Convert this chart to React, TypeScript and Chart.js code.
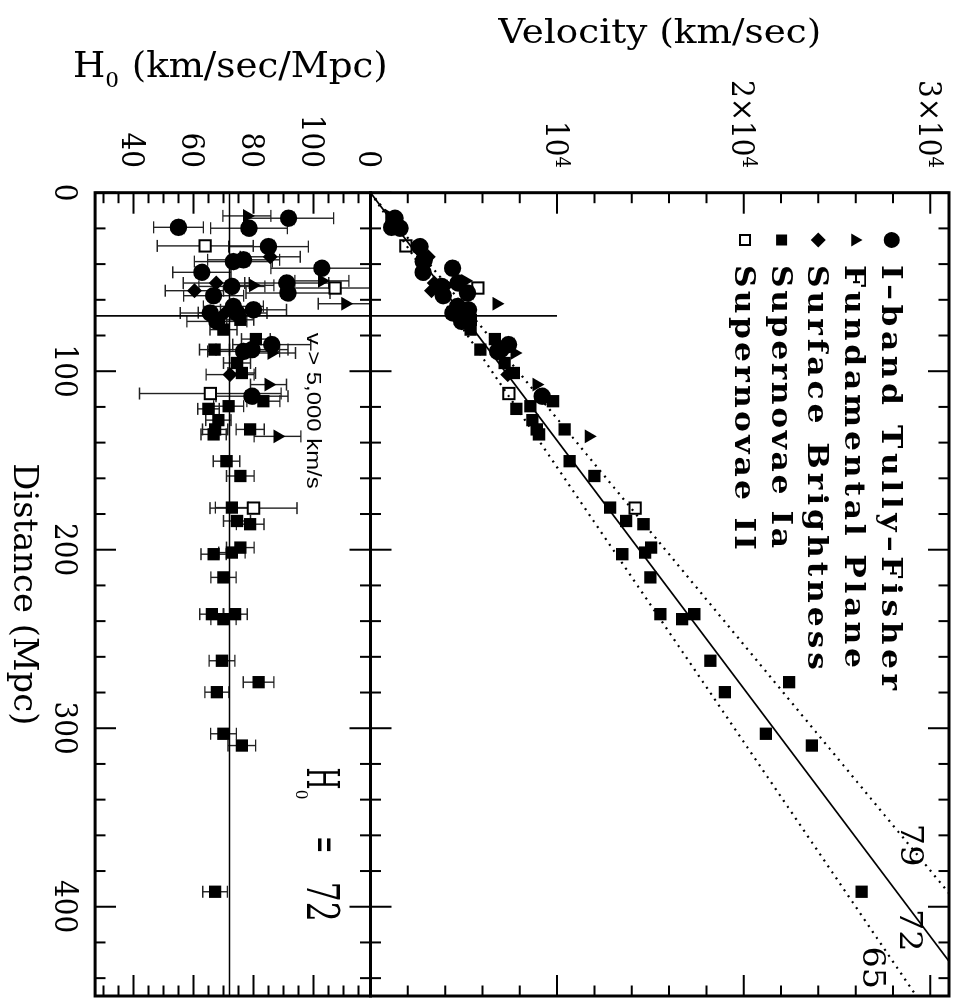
import React, { useEffect, useRef } from "react";
import { Chart, registerables } from "chart.js";

Chart.register(...registerables);

/* ---------------- values ---------------- */
// I-band Tully-Fisher (filled circles)
const tfDist = [14.3, 19.4, 19.9, 30.2, 38.6, 37.6, 44.6, 42.3, 52.5, 50.6, 56.2, 57.7, 67.4, 72.1, 63.7, 65.6, 67.4, 85.1, 88.9, 87.9, 114.0];
const tfVel = [1310, 1130, 1580, 2650, 2830, 2880, 2820, 4400, 3810, 4700, 5200, 3900, 4420, 4890, 4670, 5250, 5020, 7400, 6820, 6990, 9200];
const tfH0 = [91.7, 55.0, 78.5, 85.0, 73.3, 76.7, 62.8, 102.8, 72.8, 91.1, 91.5, 66.7, 65.6, 67.8, 73.3, 80.0, 74.5, 86.1, 76.7, 79.5, 79.5];
const tfErr = [15, 8.3, 12.8, 13.3, 13, 12, 9.7, 17, 11, 14, 14, 10, 10, 10, 10, 11, 10, 13, 12, 12, 12];

// Fundamental Plane (filled triangles)
const fpDist = [13.0, 49.4, 51.9, 62.2, 89.8, 107.5, 136.5];
const fpVel = [1010, 5080, 4140, 6750, 7720, 8900, 11700];
const fpH0 = [77.8, 102.8, 79.8, 110.6, 86.0, 85.0, 88.0];
const fpErr = [8, 9, 7, 9, 8, 6, 7.8];

// Surface Brightness Fluctuations (filled diamonds)
const sbfDist = [35.9, 50.6, 54.9, 67.2, 101.9];
const sbfVel = [3090, 3420, 3270, 4740, 7360];
const sbfH0 = [85.6, 67.6, 60.3, 70.6, 72.2];
const sbfErr = [10, 11, 9.7, 9, 8];

// Supernovae Ia (filled squares)
const snIaDist = [71.2, 76.7, 82.0, 87.9, 95.4, 101.0, 116.8, 121.1, 119.6, 127.4, 132.6, 135.4, 132.6, 150.4, 158.7, 176.4, 183.9, 185.7, 198.8, 201.6, 202.5, 215.5, 236.1, 236.1, 238.9, 262.2, 274.2, 279.8, 303.1, 309.7, 391.6];
const snIaVel = [5380, 5370, 6660, 5890, 7190, 7680, 9780, 7820, 8570, 8670, 8910, 9030, 10400, 10670, 12000, 12840, 13700, 14630, 15040, 14720, 13490, 15000, 15530, 17350, 16700, 18210, 22430, 18990, 21190, 23650, 26320];
const snIaH0 = [75.6, 70.0, 80.8, 67.0, 74.5, 76.1, 83.3, 65.0, 71.7, 68.3, 67.2, 66.7, 78.9, 71.0, 75.6, 72.8, 74.5, 78.9, 75.6, 72.8, 66.7, 70.0, 66.1, 73.9, 70.0, 69.5, 81.7, 67.8, 70.0, 76.1, 67.2];
const snIaErr = [4.5, 4.5, 4.8, 5.0, 4.5, 4.6, 5.5, 3.6, 5.0, 4.2, 4.2, 4.2, 4.7, 4.4, 4.6, 5.5, 4.5, 4.6, 4.6, 4.4, 4.2, 4.2, 4.0, 4.0, 4.2, 4.3, 5.1, 4.0, 4.3, 4.6, 4.1];

// Supernovae II (open squares)
const snIIDist = [29.8, 53.4, 112.5, 176.7];
const snIIVel = [1900, 5750, 7420, 14180];
const snIIH0 = [63.9, 107.2, 65.6, 80.0];
const snIIErr = [16, 14, 23.6, 14.5];

// axes
const distRange = [0, 450];
const velRange = [0, 31000];
const h0Range = [27.2, 119];
const distTicks = [0, 100, 200, 300, 400];
const distTickLabels = ["0", "100", "200", "300", "400"];
const velTicks = [0, 10000, 20000, 30000];
const velTickBase = ["0", "10", "2\u00d710", "3\u00d710"];
const velTickSup = ["", "4", "4", "4"];
const h0Ticks = [40, 60, 80, 100];
const h0TickLabels = ["40", "60", "80", "100"];

// Hubble-law lines and cut
const hubbleValues = [72, 79, 65];
const hubbleLabels = ["72", "79", "65"];
const cutDist = 69;
const cutVel = 10000;

const legendLabels = ["I\u2013band Tully\u2013Fisher", "Fundamental Plane", "Surface Brightness", "Supernovae Ia", "Supernovae II"];

/* ---------------- layout (landscape canvas, shown rotated) ---------------- */
const W = 1006;
const H = 959;
const PLOT_L = 192.7;
const PLOT_R = 997.7;
const VEL_T = 8.8;
const DIV = 588.5;
const H0_B = 863.9;

const SERIF = "'DejaVu Serif', 'Liberation Serif', serif";
const SANS = "'Liberation Sans', Arial, sans-serif";

const pts = (xs: number[], ys: number[]) => xs.map((x, i) => ({ x, y: ys[i] }));

type Marker = { style: string; radius: number; fill: string; border: number };
const markers: Marker[] = [
  { style: "circle", radius: 8.7, fill: "#000", border: 0 },
  { style: "triangle", radius: 8, fill: "#000", border: 0 },
  { style: "rectRot", radius: 7.5, fill: "#000", border: 0 },
  { style: "rect", radius: 8.7, fill: "#000", border: 0 },
  { style: "rect", radius: 8, fill: "rgba(0,0,0,0)", border: 2 },
];

function pointDs(data: any[], m: Marker, extra: any = {}) {
  return {
    data,
    pointStyle: m.style,
    pointRadius: m.radius,
    pointHoverRadius: m.radius,
    backgroundColor: m.fill,
    pointBackgroundColor: m.fill,
    borderColor: "#000",
    pointBorderColor: "#000",
    borderWidth: m.border,
    pointBorderWidth: m.border,
    showLine: false,
    order: 1,
    ...extra,
  };
}

function lineDs(data: any[], width: number, dash: number[] = []) {
  return {
    data,
    showLine: true,
    borderColor: "#000",
    borderWidth: width,
    borderDash: dash,
    borderCapStyle: "butt",
    pointRadius: 0,
    pointHoverRadius: 0,
    fill: false,
    order: 5,
  };
}

function drawFrameTicks(ctx: CanvasRenderingContext2D, a: any, xs: any, ys: any, xMinor: number, xMajor: number, yMinor: number, yMajor: number) {
  ctx.save();
  ctx.strokeStyle = "#000";
  ctx.lineWidth = 2;
  ctx.lineCap = "butt";
  ctx.beginPath();
  for (let k = Math.ceil(xs.min / xMinor); k * xMinor <= xs.max + 1e-6; k++) {
    const v = k * xMinor;
    const px = xs.getPixelForValue(v);
    const major = Math.abs(v / xMajor - Math.round(v / xMajor)) < 1e-6;
    const L = major ? 21 : 10.5;
    ctx.moveTo(px, a.top);
    ctx.lineTo(px, a.top + L);
    ctx.moveTo(px, a.bottom);
    ctx.lineTo(px, a.bottom - L);
  }
  for (let k = Math.ceil(ys.min / yMinor - 1e-6); k * yMinor <= ys.max + 1e-6; k++) {
    const v = k * yMinor;
    const py = ys.getPixelForValue(v);
    const major = Math.abs(v / yMajor - Math.round(v / yMajor)) < 1e-6;
    const L = major ? 21 : 10.5;
    ctx.moveTo(a.left, py);
    ctx.lineTo(a.left + L, py);
    ctx.moveTo(a.right, py);
    ctx.lineTo(a.right - L, py);
  }
  ctx.stroke();
  ctx.lineWidth = 3;
  ctx.strokeRect(a.left, a.top, a.right - a.left, a.bottom - a.top);
  ctx.restore();
}

function drawScaled(ctx: CanvasRenderingContext2D, text: string, x: number, y: number, font: string, sx: number, align: CanvasTextAlign = "left", rot = 0) {
  ctx.save();
  ctx.translate(x, y);
  if (rot) ctx.rotate(rot);
  ctx.scale(sx, 1);
  ctx.font = font;
  ctx.fillStyle = "#000";
  ctx.textAlign = align;
  ctx.textBaseline = "alphabetic";
  ctx.fillText(text, 0, 0);
  ctx.restore();
}

function textWidth(ctx: CanvasRenderingContext2D, text: string, font: string) {
  ctx.save();
  ctx.font = font;
  const w = ctx.measureText(text).width;
  ctx.restore();
  return w;
}

const TICK_FONT = `31px ${SERIF}`;
const SUP_FONT = `20px ${SERIF}`;
const TICK_SX = 0.9;

function drawYTickLabel(ctx: CanvasRenderingContext2D, base: string, sup: string, xr: number, y: number) {
  const wb = textWidth(ctx, base, TICK_FONT) * TICK_SX;
  const ws = sup ? textWidth(ctx, sup, SUP_FONT) * TICK_SX : 0;
  drawScaled(ctx, base, xr - ws - wb, y + 11.3, TICK_FONT, TICK_SX);
  if (sup) drawScaled(ctx, sup, xr - ws, y + 1, SUP_FONT, TICK_SX);
}

function drawLegendMarker(ctx: CanvasRenderingContext2D, i: number, x: number, y: number) {
  ctx.save();
  ctx.fillStyle = "#000";
  ctx.strokeStyle = "#000";
  ctx.beginPath();
  if (i === 0) {
    ctx.arc(x, y, 8, 0, Math.PI * 2);
    ctx.fill();
  } else if (i === 1) {
    const r = 7.5;
    ctx.moveTo(x, y - r);
    ctx.lineTo(x + r * 0.866, y + r * 0.5);
    ctx.lineTo(x - r * 0.866, y + r * 0.5);
    ctx.closePath();
    ctx.fill();
  } else if (i === 2) {
    const r = 7.5;
    ctx.moveTo(x, y - r);
    ctx.lineTo(x + r, y);
    ctx.lineTo(x, y + r);
    ctx.lineTo(x - r, y);
    ctx.closePath();
    ctx.fill();
  } else if (i === 3) {
    ctx.rect(x - 5.5, y - 5.5, 11, 11);
    ctx.fill();
  } else {
    ctx.lineWidth = 2;
    ctx.rect(x - 5, y - 5, 10, 10);
    ctx.stroke();
  }
  ctx.restore();
}

const LEGEND_FONT = `bold 28px ${SERIF}`;
const LEGEND_SX = 1.12;
const legendWidths = [425, 403, 405, 283, 285];

function drawSpaced(ctx: CanvasRenderingContext2D, text: string, x: number, y: number, font: string, sx: number, target: number) {
  ctx.save();
  ctx.font = font;
  ctx.fillStyle = "#000";
  ctx.textAlign = "left";
  ctx.textBaseline = "alphabetic";
  const chars = Array.from(text);
  const ws = chars.map((c) => ctx.measureText(c).width * sx);
  const total = ws.reduce((s, w) => s + w, 0);
  const ls = (target - total) / Math.max(1, chars.length - 1);
  let cx = x;
  chars.forEach((c, i) => {
    ctx.save();
    ctx.translate(cx, y);
    ctx.scale(sx, 1);
    ctx.fillText(c, 0, 0);
    ctx.restore();
    cx += ws[i] + ls;
  });
  ctx.restore();
}

const velDeco = {
  id: "velDeco",
  afterDraw(chart: any) {
    const ctx: CanvasRenderingContext2D = chart.ctx;
    const a = chart.chartArea;
    const xs = chart.scales.x;
    const ys = chart.scales.y;
    drawFrameTicks(ctx, a, xs, ys, 20, 100, 2000, 10000);
    velTicks.forEach((v, i) => drawYTickLabel(ctx, velTickBase[i], velTickSup[i], 168, ys.getPixelForValue(v)));
    // axis title (vertical in landscape)
    const tf = `34px ${SERIF}`;
    const title = "Velocity (km/sec)";
    const sx = 323 / textWidth(ctx, title, tf);
    drawScaled(ctx, title, 43.3, (a.top + a.bottom) / 2, tf, sx, "center", -Math.PI / 2);
    // legend
    legendLabels.forEach((lab, i) => {
      const y = 67.3 + 36.7 * i;
      drawLegendMarker(ctx, i, 240, y);
      drawSpaced(ctx, lab, 265, y + 10, LEGEND_FONT, LEGEND_SX, legendWidths[i]);
    });
    // Hubble line labels
    const lf = `32px ${SERIF}`;
    const anchors = [
      { d: 413.2, v: 28980 },
      { d: 365.5, v: 29040 },
      { d: 434.2, v: 27000 },
    ];
    hubbleLabels.forEach((t, i) => {
      const px = xs.getPixelForValue(anchors[i].d);
      const py = ys.getPixelForValue(anchors[i].v);
      drawScaled(ctx, t, px, py + 11.5, lf, 1.05, "center");
    });
  },
};

const h0Deco = {
  id: "h0Deco",
  beforeDatasetsDraw(chart: any) {
    const ctx: CanvasRenderingContext2D = chart.ctx;
    const a = chart.chartArea;
    const xs = chart.scales.x;
    const ys = chart.scales.y;
    ctx.save();
    ctx.beginPath();
    ctx.rect(a.left, a.top, a.right - a.left, a.bottom - a.top);
    ctx.clip();
    ctx.strokeStyle = "#222";
    ctx.lineWidth = 1.4;
    chart.data.datasets.forEach((ds: any) => {
      const errs: number[] | undefined = ds.errs;
      if (!errs) return;
      ds.data.forEach((p: any, i: number) => {
        const px = xs.getPixelForValue(p.x);
        const y1 = ys.getPixelForValue(p.y - errs[i]);
        const y2 = ys.getPixelForValue(p.y + errs[i]);
        ctx.beginPath();
        ctx.moveTo(px, y1);
        ctx.lineTo(px, y2);
        ctx.moveTo(px - 6, y1);
        ctx.lineTo(px + 6, y1);
        ctx.moveTo(px - 6, y2);
        ctx.lineTo(px + 6, y2);
        ctx.stroke();
      });
    });
    ctx.restore();
  },
  afterDraw(chart: any) {
    const ctx: CanvasRenderingContext2D = chart.ctx;
    const a = chart.chartArea;
    const xs = chart.scales.x;
    const ys = chart.scales.y;
    drawFrameTicks(ctx, a, xs, ys, 20, 100, 5, 20);
    h0Ticks.forEach((v, i) => drawYTickLabel(ctx, h0TickLabels[i], "", 168, ys.getPixelForValue(v)));
    distTicks.forEach((d, i) => drawScaled(ctx, distTickLabels[i], xs.getPixelForValue(d), 904, TICK_FONT, TICK_SX, "center"));
    // distance title
    const tf = `34px ${SERIF}`;
    const dt = "Distance (Mpc)";
    drawScaled(ctx, dt, (a.left + a.right) / 2, 945, tf, 262 / textWidth(ctx, dt, tf), "center");
    // H0 title (vertical in landscape), pieces: H, subscript 0, (km/sec/Mpc)
    const hf = `36px ${SERIF}`;
    const sf = `21px ${SERIF}`;
    const rest = "(km/sec/Mpc)";
    const hsx = 256 / textWidth(ctx, rest, hf);
    ctx.save();
    ctx.translate(76.7, 886);
    ctx.rotate(-Math.PI / 2);
    let u = 0;
    drawScaled(ctx, "H", u, 0, hf, hsx);
    u += textWidth(ctx, "H", hf) * hsx;
    drawScaled(ctx, "0", u, 10, sf, hsx);
    u = 886 - 827.3;
    drawScaled(ctx, rest, u, 0, hf, hsx);
    ctx.restore();
    // cut annotation
    const vt = "v > 5,000 km/s";
    const vf = `21px ${SANS}`;
    drawScaled(ctx, vt, xs.getPixelForValue(78.4), ys.getPixelForValue(97.9), vf, 156 / textWidth(ctx, vt, vf));
    // H0 = 72 annotation
    const bf = `45px ${SERIF}`;
    const by = ys.getPixelForValue(97.9);
    drawScaled(ctx, "H", xs.getPixelForValue(322), by, bf, 22 / textWidth(ctx, "H", bf));
    drawScaled(ctx, "0", xs.getPixelForValue(334.5), by + 11, `17px ${SERIF}`, 0.9);
    drawScaled(ctx, "=", xs.getPixelForValue(360.5), by - 3, bf, 17 / textWidth(ctx, "=", bf));
    drawScaled(ctx, "72", xs.getPixelForValue(386), by, bf, 40 / textWidth(ctx, "72", bf));
  },
};

function baseOptions(padTop: number, padBottom: number, yMin: number, yMax: number) {
  return {
    responsive: false,
    animation: false as const,
    devicePixelRatio: 1,
    events: [] as any[],
    layout: { padding: { left: PLOT_L, right: W - PLOT_R, top: padTop, bottom: padBottom } },
    scales: {
      x: { type: "linear" as const, min: distRange[0], max: distRange[1], display: false },
      y: { type: "linear" as const, min: yMin, max: yMax, display: false },
    },
    plugins: { legend: { display: false }, tooltip: { enabled: false } },
  };
}

export default function App() {
  const velRef = useRef<HTMLCanvasElement>(null);
  const h0Ref = useRef<HTMLCanvasElement>(null);

  useEffect(() => {
    document.documentElement.style.overflow = "hidden";
    document.body.style.overflow = "hidden";

    const velDatasets: any[] = [
      lineDs([{ x: 0, y: 0 }, { x: distRange[1], y: hubbleValues[0] * distRange[1] }], 1.7),
      lineDs([{ x: 0, y: 0 }, { x: distRange[1], y: hubbleValues[1] * distRange[1] }], 2.2, [2, 5.2]),
      lineDs([{ x: 0, y: 0 }, { x: distRange[1], y: hubbleValues[2] * distRange[1] }], 2.2, [2, 5.2]),
      lineDs([{ x: cutDist, y: velRange[0] }, { x: cutDist, y: cutVel }], 1.7),
      pointDs(pts(snIIDist, snIIVel), markers[4]),
      pointDs(pts(snIaDist, snIaVel), markers[3]),
      pointDs(pts(sbfDist, sbfVel), markers[2]),
      pointDs(pts(fpDist, fpVel), markers[1]),
      pointDs(pts(tfDist, tfVel), markers[0]),
    ];

    const h0Datasets: any[] = [
      lineDs([{ x: distRange[0], y: hubbleValues[0] }, { x: distRange[1], y: hubbleValues[0] }], 1.7),
      lineDs([{ x: cutDist, y: h0Range[0] }, { x: cutDist, y: h0Range[1] }], 1.7),
      pointDs(pts(snIIDist, snIIH0), { ...markers[4], fill: "#fff" }, { errs: snIIErr }),
      pointDs(pts(snIaDist, snIaH0), markers[3], { errs: snIaErr }),
      pointDs(pts(sbfDist, sbfH0), markers[2], { errs: sbfErr }),
      pointDs(pts(fpDist, fpH0), markers[1], { errs: fpErr }),
      pointDs(pts(tfDist, tfH0), markers[0], { errs: tfErr }),
    ];

    const velChart = new Chart(velRef.current as HTMLCanvasElement, {
      type: "scatter",
      data: { datasets: velDatasets },
      options: baseOptions(VEL_T, H - DIV, velRange[0], velRange[1]) as any,
      plugins: [velDeco],
    });
    const h0Chart = new Chart(h0Ref.current as HTMLCanvasElement, {
      type: "scatter",
      data: { datasets: h0Datasets },
      options: baseOptions(DIV, H - H0_B, h0Range[0], h0Range[1]) as any,
      plugins: [h0Deco],
    });
    return () => {
      velChart.destroy();
      h0Chart.destroy();
    };
  }, []);

  return (
    <div
      style={{
        position: "absolute",
        left: 0,
        top: 0,
        width: W,
        height: H,
        transformOrigin: "0 0",
        transform: `translate(${H}px, 0px) rotate(90deg)`,
        background: "#fff",
      }}
    >
      <canvas ref={velRef} width={W} height={H} style={{ position: "absolute", left: 0, top: 0 }} />
      <canvas ref={h0Ref} width={W} height={H} style={{ position: "absolute", left: 0, top: 0 }} />
    </div>
  );
}
